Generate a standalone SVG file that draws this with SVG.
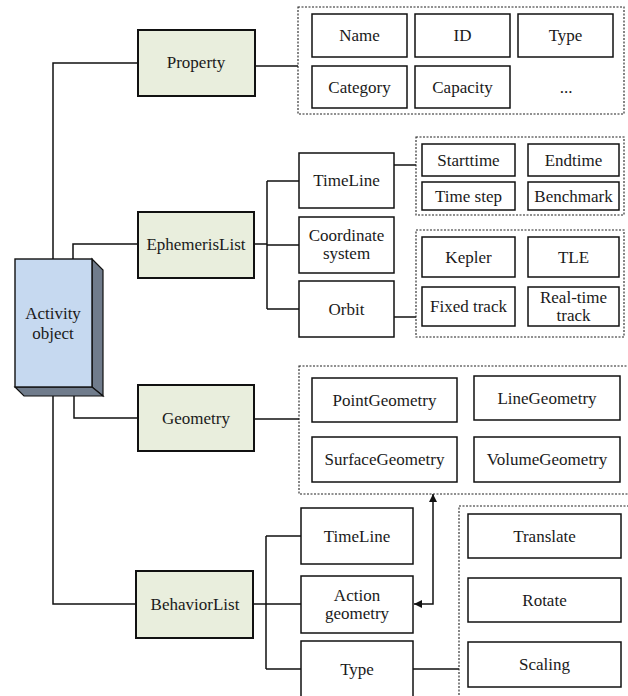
<svg xmlns="http://www.w3.org/2000/svg" width="628" height="696" viewBox="0 0 628 696">
<defs>
<style>
text{font-family:"Liberation Serif","Times New Roman",serif;font-size:17px;fill:#1a1a1a;text-anchor:middle}
.g{fill:#e9eedd;stroke:#111;stroke-width:2}
.w{fill:#fff;stroke:#111;stroke-width:1.5}
.d{fill:none;stroke:#222;stroke-width:1.1;stroke-dasharray:2,1.5}
.c{fill:none;stroke:#111;stroke-width:1.5}
</style>
<marker id="ah" viewBox="0 0 10 10" refX="10" refY="5" markerWidth="8" markerHeight="8" markerUnits="userSpaceOnUse" orient="auto-start-reverse">
<path d="M0,0L10,5L0,10z" fill="#111"/>
</marker>
</defs>
<rect width="628" height="696" fill="#fff"/>

<g id="connectors">
<path class="c" d="M53,259V63H138"/>
<path class="c" d="M73,259V244H138"/>
<path class="c" d="M74,396V418H138"/>
<path class="c" d="M53,396V604H136"/>
<path class="c" d="M255,66H298"/>
<path class="c" d="M254,244H267M267,181V309M267,181H299M267,245H299M267,309H299"/>
<path class="c" d="M394,165H416"/>
<path class="c" d="M394,317H416"/>
<path class="c" d="M254,419H299"/>
<path class="c" d="M253,604H266M266,536V669M266,536H301M266,604H301M266,669H301"/>
<path class="c" d="M413,669H459"/>
<path class="c" d="M414,604H433V494" marker-start="url(#ah)" marker-end="url(#ah)"/>
</g>

<g id="activity">
<polygon points="92,259 103,270 103,396 92,387" fill="#707c8c" stroke="#111" stroke-width="1.2"/>
<polygon points="15,387 24,396 103,396 92,387" fill="#707c8c" stroke="#111" stroke-width="1.2"/>
<rect x="15" y="259" width="77" height="128" fill="#c6d9f0" stroke="#111" stroke-width="1.4"/>
<text x="53" y="319">Activity</text>
<text x="53" y="339">object</text>
</g>

<g id="property"><rect class="g" x="138" y="30" width="117" height="66"/><text x="196" y="68">Property</text></g>
<g id="ephemeris"><rect class="g" x="138" y="212" width="116" height="66"/><text x="196" y="250">EphemerisList</text></g>
<g id="geometry"><rect class="g" x="138" y="385" width="116" height="66"/><text x="196" y="424">Geometry</text></g>
<g id="behavior"><rect class="g" x="136" y="571" width="117" height="67"/><text x="195" y="610">BehaviorList</text></g>

<g id="property-set">
<rect class="d" x="298" y="7" width="326" height="107"/>
<g id="p-name"><rect class="w" x="312" y="14" width="95" height="43"/><text x="359.5" y="41">Name</text></g>
<g id="p-id"><rect class="w" x="415" y="14" width="95" height="43"/><text x="462.5" y="41">ID</text></g>
<g id="p-type"><rect class="w" x="518" y="14" width="95" height="43"/><text x="565.5" y="41">Type</text></g>
<g id="p-category"><rect class="w" x="312" y="66" width="95" height="42"/><text x="359.5" y="93">Category</text></g>
<g id="p-capacity"><rect class="w" x="415" y="66" width="95" height="42"/><text x="462.5" y="93">Capacity</text></g>
<text x="566" y="93">...</text>
</g>

<g id="e-timeline"><rect class="w" x="299" y="153" width="95" height="55"/><text x="346.5" y="186">TimeLine</text></g>
<g id="e-coord"><rect class="w" x="299" y="217" width="95" height="56"/><text x="346.5" y="241">Coordinate</text><text x="346.5" y="259">system</text></g>
<g id="e-orbit"><rect class="w" x="299" y="281" width="95" height="56"/><text x="346.5" y="315">Orbit</text></g>

<g id="timeline-set">
<rect class="d" x="416" y="137" width="208" height="78"/>
<g id="starttime"><rect class="w" x="422" y="144" width="93" height="32"/><text x="468.5" y="166">Starttime</text></g>
<g id="endtime"><rect class="w" x="528" y="144" width="91" height="32"/><text x="573.5" y="166">Endtime</text></g>
<g id="timestep"><rect class="w" x="422" y="182" width="93" height="28"/><text x="468.5" y="202">Time step</text></g>
<g id="benchmark"><rect class="w" x="528" y="182" width="91" height="28"/><text x="573.5" y="202">Benchmark</text></g>
</g>

<g id="orbit-set">
<rect class="d" x="416" y="230" width="208" height="107"/>
<g id="kepler"><rect class="w" x="422" y="237" width="93" height="40"/><text x="468.5" y="263">Kepler</text></g>
<g id="tle"><rect class="w" x="528" y="237" width="91" height="40"/><text x="573.5" y="263">TLE</text></g>
<g id="fixed"><rect class="w" x="422" y="287" width="93" height="39"/><text x="468.5" y="312">Fixed track</text></g>
<g id="realtime"><rect class="w" x="528" y="287" width="91" height="39"/><text x="573.5" y="303">Real-time</text><text x="573.5" y="321">track</text></g>
</g>

<g id="geometry-set">
<rect class="d" x="299" y="366" width="340" height="128"/>
<g id="pointgeo"><rect class="w" x="312" y="378" width="145" height="44"/><text x="384.5" y="406">PointGeometry</text></g>
<g id="linegeo"><rect class="w" x="474" y="376" width="146" height="44"/><text x="547" y="404">LineGeometry</text></g>
<g id="surfacegeo"><rect class="w" x="312" y="437" width="145" height="45"/><text x="384.5" y="465">SurfaceGeometry</text></g>
<g id="volumegeo"><rect class="w" x="474" y="437" width="146" height="45"/><text x="547" y="465">VolumeGeometry</text></g>
</g>

<g id="b-timeline"><rect class="w" x="301" y="508" width="112" height="56"/><text x="357" y="542">TimeLine</text></g>
<g id="b-action"><rect class="w" x="301" y="576" width="112" height="57"/><text x="357" y="601">Action</text><text x="357" y="619">geometry</text></g>
<g id="b-type"><rect class="w" x="301" y="641" width="112" height="70"/><text x="357" y="675">Type</text></g>

<g id="transform-set">
<rect class="d" x="459" y="506" width="200" height="220"/>
<g id="translate"><rect class="w" x="468" y="514" width="153" height="44"/><text x="544.5" y="542">Translate</text></g>
<g id="rotate"><rect class="w" x="468" y="578" width="153" height="44"/><text x="544.5" y="606">Rotate</text></g>
<g id="scaling"><rect class="w" x="468" y="642" width="153" height="45"/><text x="544.5" y="670">Scaling</text></g>
</g>
</svg>
